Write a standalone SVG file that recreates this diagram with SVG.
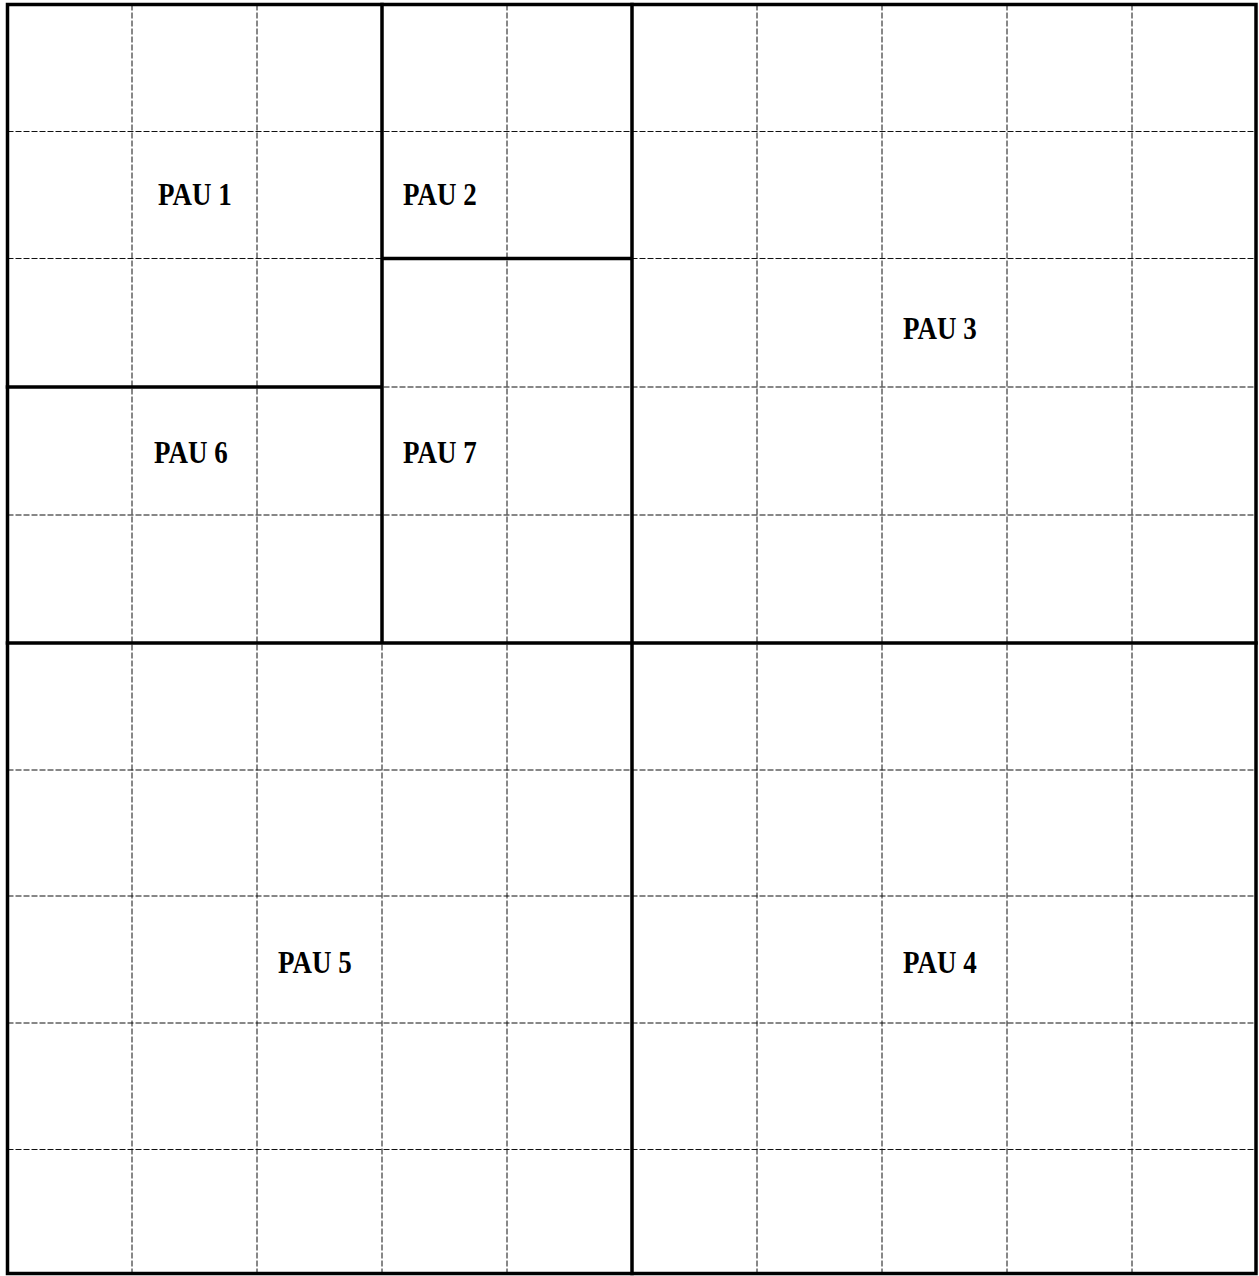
<svg xmlns="http://www.w3.org/2000/svg" width="1259" height="1276" viewBox="0 0 1259 1276">
<style>
.g{stroke:#111;stroke-width:1;stroke-dasharray:6,2;fill:none}
.t{stroke:#000;stroke-width:3.5;fill:none;stroke-linecap:square}
.l{font-family:"Liberation Serif","Times New Roman",serif;font-weight:bold;font-size:27px;fill:#000}
</style>
<rect width="1259" height="1276" fill="#fff"/>
<g id="grid">
<path class="g" d="M132 4.5V1273.5M257 4.5V1273.5M382 4.5V1273.5M507 4.5V1273.5M757 4.5V1273.5M882 4.5V1273.5M1007 4.5V1273.5M1132 4.5V1273.5"/>
<path class="g" d="M7.5 131.5H1256M7.5 258.5H1256M7.5 387H1256M7.5 515H1256M7.5 770H1256M7.5 896H1256M7.5 1023H1256M7.5 1149.5H1256"/>
</g>
<g id="walls">
<rect class="t" x="7.5" y="4.5" width="1248.5" height="1269"/>
<path class="t" d="M382 4.5V643M632 4.5V1273.5M7.5 643H1256M7.5 387H382M382 258.5H632"/>
</g>
<g id="pau1"><text class="l" transform="translate(158,205) scale(1,1.15)">PAU 1</text></g>
<g id="pau2"><text class="l" transform="translate(403,205) scale(1,1.15)">PAU 2</text></g>
<g id="pau3"><text class="l" transform="translate(903,339) scale(1,1.15)">PAU 3</text></g>
<g id="pau6"><text class="l" transform="translate(154,463) scale(1,1.15)">PAU 6</text></g>
<g id="pau7"><text class="l" transform="translate(403,463) scale(1,1.15)">PAU 7</text></g>
<g id="pau5"><text class="l" transform="translate(278,973) scale(1,1.15)">PAU 5</text></g>
<g id="pau4"><text class="l" transform="translate(903,973) scale(1,1.15)">PAU 4</text></g>
</svg>
